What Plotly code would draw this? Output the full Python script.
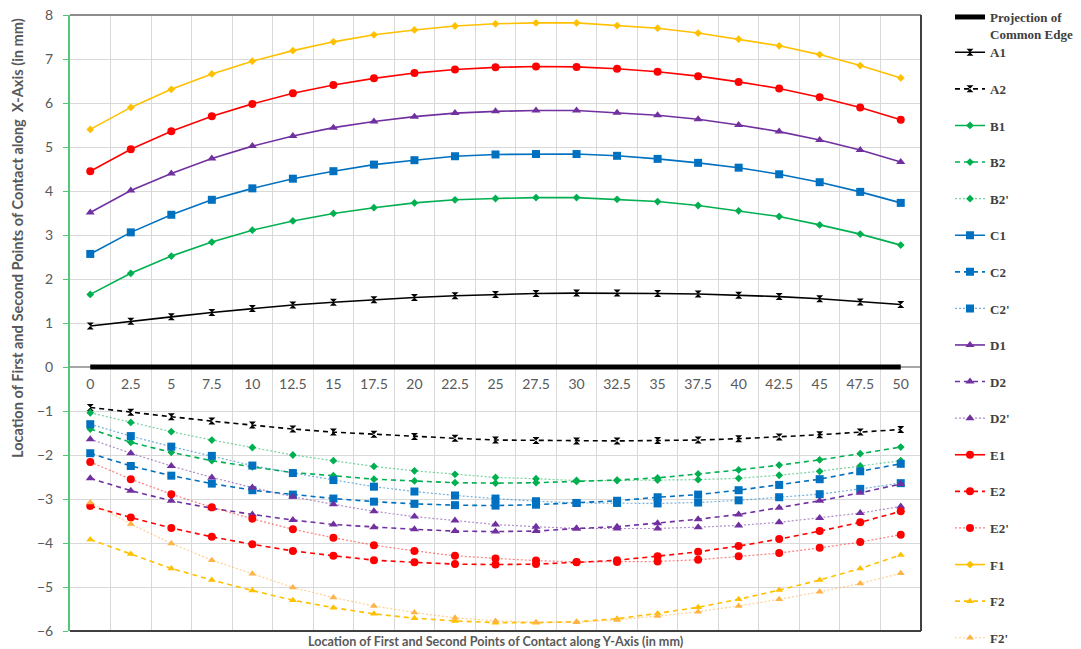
import plotly.graph_objects as go

# Positions along the Y-axis (mm) and their tick labels
y_positions = [0, 2.5, 5, 7.5, 10, 12.5, 15, 17.5, 20, 22.5, 25,
               27.5, 30, 32.5, 35, 37.5, 40, 42.5, 45, 47.5, 50]
tick_labels = ["0", "2.5", "5", "7.5", "10", "12.5", "15", "17.5", "20", "22.5", "25",
               "27.5", "30", "32.5", "35", "37.5", "40", "42.5", "45", "47.5", "50"]

# Projection of the common edge (lies on X = 0)
edge = [0] * len(y_positions)

# First / second contact point locations along the X-axis (mm)
A1 = [0.93, 1.04, 1.14, 1.24, 1.33, 1.41, 1.47, 1.53, 1.58, 1.62, 1.65,
      1.67, 1.68, 1.68, 1.67, 1.66, 1.63, 1.60, 1.55, 1.48, 1.42]
A2 = [-0.92, -1.03, -1.13, -1.23, -1.32, -1.41, -1.48, -1.53, -1.58, -1.62, -1.66,
      -1.67, -1.68, -1.68, -1.67, -1.66, -1.63, -1.59, -1.54, -1.48, -1.42]
B1 = [1.65, 2.13, 2.52, 2.84, 3.11, 3.32, 3.49, 3.62, 3.73, 3.80, 3.83,
      3.85, 3.85, 3.81, 3.76, 3.67, 3.55, 3.42, 3.23, 3.02, 2.77]
B2 = [-1.41, -1.71, -1.94, -2.13, -2.27, -2.40, -2.47, -2.55, -2.59, -2.63, -2.64,
      -2.63, -2.60, -2.57, -2.52, -2.43, -2.34, -2.23, -2.11, -1.97, -1.82]
B2p = [-1.04, -1.26, -1.47, -1.66, -1.83, -2.00, -2.13, -2.26, -2.36, -2.44, -2.51,
       -2.54, -2.58, -2.58, -2.57, -2.56, -2.53, -2.46, -2.37, -2.25, -2.13]
C1 = [2.57, 3.06, 3.46, 3.80, 4.06, 4.28, 4.45, 4.60, 4.70, 4.79, 4.83,
      4.84, 4.84, 4.80, 4.73, 4.64, 4.53, 4.38, 4.20, 3.98, 3.73]
C2 = [-1.96, -2.25, -2.47, -2.65, -2.80, -2.90, -2.99, -3.06, -3.11, -3.14, -3.15,
      -3.13, -3.09, -3.04, -2.96, -2.90, -2.80, -2.68, -2.55, -2.37, -2.20]
C2p = [-1.30, -1.57, -1.81, -2.02, -2.24, -2.41, -2.57, -2.72, -2.83, -2.92, -2.99,
       -3.05, -3.09, -3.09, -3.10, -3.08, -3.03, -2.96, -2.89, -2.77, -2.64]
D1 = [3.51, 4.01, 4.40, 4.74, 5.02, 5.25, 5.44, 5.58, 5.69, 5.77, 5.81,
      5.83, 5.83, 5.78, 5.72, 5.63, 5.50, 5.35, 5.16, 4.93, 4.66]
D2 = [-2.53, -2.81, -3.04, -3.21, -3.35, -3.48, -3.58, -3.64, -3.69, -3.73, -3.74,
      -3.73, -3.67, -3.63, -3.55, -3.46, -3.35, -3.20, -3.04, -2.86, -2.66]
D2p = [-1.64, -1.96, -2.25, -2.51, -2.74, -2.95, -3.12, -3.28, -3.40, -3.49, -3.58,
       -3.63, -3.67, -3.67, -3.67, -3.64, -3.60, -3.53, -3.43, -3.32, -3.17]
E1 = [4.45, 4.95, 5.36, 5.70, 5.98, 6.22, 6.41, 6.56, 6.68, 6.76, 6.81,
      6.83, 6.82, 6.78, 6.71, 6.61, 6.48, 6.33, 6.13, 5.90, 5.62]
E2 = [-3.16, -3.42, -3.66, -3.86, -4.03, -4.18, -4.29, -4.39, -4.44, -4.48, -4.49,
      -4.48, -4.44, -4.39, -4.30, -4.20, -4.07, -3.91, -3.73, -3.53, -3.28]
E2p = [-2.16, -2.55, -2.89, -3.19, -3.45, -3.69, -3.88, -4.05, -4.18, -4.29, -4.35,
       -4.40, -4.43, -4.43, -4.42, -4.38, -4.30, -4.23, -4.11, -3.98, -3.81]
F1 = [5.40, 5.90, 6.31, 6.66, 6.95, 7.19, 7.39, 7.55, 7.66, 7.75, 7.80,
      7.82, 7.82, 7.76, 7.70, 7.59, 7.45, 7.30, 7.10, 6.85, 6.57]
F2 = [-3.92, -4.25, -4.58, -4.84, -5.08, -5.30, -5.47, -5.61, -5.71, -5.77, -5.81,
      -5.81, -5.79, -5.72, -5.60, -5.46, -5.28, -5.07, -4.84, -4.58, -4.27]
F2p = [-3.08, -3.57, -4.01, -4.39, -4.70, -5.01, -5.24, -5.43, -5.58, -5.70, -5.77,
       -5.80, -5.80, -5.75, -5.66, -5.56, -5.43, -5.28, -5.11, -4.92, -4.69]

# colour: (marker colour, faint line colour used for dotted curves)
BLACK = ("#000000", "rgba(0,0,0,0.6)")
GREEN = ("#00B050", "rgba(0,176,80,0.55)")
BLUE = ("#0070C0", "rgba(0,112,192,0.55)")
PURPLE = ("#7030A0", "rgba(112,48,160,0.55)")
RED = ("#FF0000", "rgba(255,0,0,0.5)")
GOLD = ("#FFC000", "rgba(255,192,0,0.6)")
LIGHT_GOLD = ("#FFB347", "rgba(255,179,71,0.6)")

SOLID, DASH, DOT = "solid", "5px,4px", "2px,2px"

# name, values, colour, dash, symbol, marker size, legend block
series = [
    ("A1", A1, BLACK, SOLID, "hourglass", 7, "legend2"),
    ("A2", A2, BLACK, DASH, "hourglass", 7, "legend2"),
    ("B1", B1, GREEN, SOLID, "diamond", 6, "legend2"),
    ("B2", B2, GREEN, DASH, "diamond", 6, "legend2"),
    ("B2'", B2p, GREEN, DOT, "diamond", 6, "legend2"),
    ("C1", C1, BLUE, SOLID, "square", 8, "legend2"),
    ("C2", C2, BLUE, DASH, "square", 8, "legend2"),
    ("C2'", C2p, BLUE, DOT, "square", 8, "legend2"),
    ("D1", D1, PURPLE, SOLID, "triangle-up", 8, "legend3"),
    ("D2", D2, PURPLE, DASH, "triangle-up", 8, "legend3"),
    ("D2'", D2p, PURPLE, DOT, "triangle-up", 8, "legend3"),
    ("E1", E1, RED, SOLID, "circle", 8, "legend3"),
    ("E2", E2, RED, DASH, "circle", 8, "legend3"),
    ("E2'", E2p, RED, DOT, "circle", 8, "legend3"),
    ("F1", F1, GOLD, SOLID, "diamond", 6, "legend3"),
    ("F2", F2, GOLD, DASH, "triangle-up", 7, "legend3"),
    ("F2'", F2p, LIGHT_GOLD, DOT, "triangle-up", 7, "legend3"),
]

fig = go.Figure()

fig.add_trace(go.Scatter(
    x=y_positions, y=edge, mode="lines", name="Projection of<br>Common Edge",
    line=dict(color="#000000", width=5), legend="legend",
))

for name, vals, (mcolor, faint), dash, symbol, msize, leg in series:
    fig.add_trace(go.Scatter(
        x=y_positions, y=vals, mode="lines+markers", name=name,
        legend=leg, legendgroup=name,
        line=dict(color=faint if dash == DOT else mcolor,
                  width=1.2 if dash == DOT else 1.6, dash=dash),
        marker=dict(symbol=symbol, size=msize, color=mcolor, line=dict(width=0)),
    ))

AXIS_GREY = "#595959"
GRID = "#D9D9D9"
legend_font = dict(family="Liberation Serif", size=13, color="#404040", weight="bold")
ITEM_GAP = 16.7
common_legend = dict(x=950 / 1081, xref="container", yref="container",
                     xanchor="left", yanchor="top", font=legend_font,
                     itemwidth=30, traceorder="grouped", tracegroupgap=ITEM_GAP,
                     bgcolor="rgba(0,0,0,0)")

fig.update_layout(
    width=1081, height=649,
    margin=dict(l=70, r=160, t=15, b=18, autoexpand=False),
    paper_bgcolor="white", plot_bgcolor="white",
    font=dict(family="Lato", color=AXIS_GREY),
    showlegend=True,
    legend=dict(common_legend, y=1 - 2 / 649, valign="top"),
    legend2=dict(common_legend, y=1 - 37.3 / 649),
    legend3=dict(common_legend, y=1 - 330 / 649),
    xaxis=dict(
        range=[-1.25, 51.25], tickmode="array", tickvals=y_positions, ticktext=tick_labels,
        showgrid=False, zeroline=False, showline=False,
        anchor="free", position=6 / 14,
        ticks="outside", ticklen=4, tickcolor="rgba(0,0,0,0)",
        tickfont=dict(family="Lato", size=14, color=AXIS_GREY),
        minor=dict(tick0=1.25, dtick=2.5, showgrid=True, gridcolor=GRID, gridwidth=1, ticks=""),
    ),
    yaxis=dict(
        range=[-6, 8], dtick=1, showgrid=True, gridcolor=GRID, gridwidth=1,
        zeroline=True, zerolinecolor="#A6A6A6", zerolinewidth=2,
        showline=True, linecolor="#50C878", linewidth=2,
        ticks="outside", ticklen=5, tickcolor="#50C878", tickwidth=1,
        ticklabelstandoff=7,
        tickfont=dict(family="Lato", size=14, color=AXIS_GREY),
    ),
    shapes=[
        dict(type="line", xref="paper", yref="paper", x0=0, x1=1, y0=1, y1=1,
             line=dict(color="#8C8C8C", width=2)),
        dict(type="line", xref="paper", yref="paper", x0=1, x1=1, y0=0, y1=1,
             line=dict(color="#404040", width=2)),
        dict(type="line", xref="paper", yref="paper", x0=0, x1=1, y0=0, y1=0,
             line=dict(color="#404040", width=2)),
    ],
    annotations=[
        dict(text="Location of First and Second Points of Contact along Y-Axis (in mm)",
             xref="paper", yref="paper", x=0.5, y=0,
             xanchor="center", yanchor="top", yshift=-1, showarrow=False,
             font=dict(family="Lato", size=12.6, color=AXIS_GREY, weight="bold")),
        dict(text="Location of First and Second Points of Contact along  X-Axis (in mm)",
             xref="paper", yref="paper", x=-(70 - 17) / 851, y=(631 - 238) / 616,
             xanchor="center", yanchor="middle", textangle=-90, showarrow=False,
             font=dict(family="Lato", size=14.6, color=AXIS_GREY, weight="bold")),
    ],
)

fig.write_html("out.html")
